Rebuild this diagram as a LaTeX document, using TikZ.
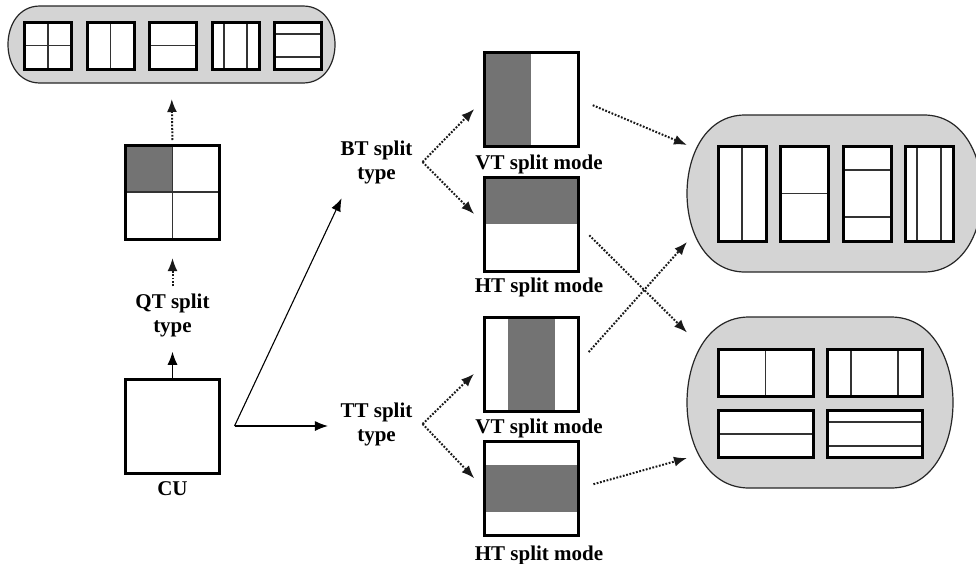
\documentclass[tikz,border=0pt]{standalone}
\usepackage{fontspec}
\setmainfont{Liberation Serif}
\usetikzlibrary{arrows.meta,calc}
\newcommand\pillshape[2]{%
  \path[pillsty] ([xshift=#2]#1.north west) -- ([xshift=-#2]#1.north east)
    .. controls ([xshift=#2/3]#1.north east) and ([xshift=#2/3]#1.south east) .. ([xshift=-#2]#1.south east)
    -- ([xshift=#2]#1.south west)
    .. controls ([xshift=-#2/3]#1.south west) and ([xshift=-#2/3]#1.north west) .. cycle;}
\newcommand\cellbox[6]{%
  \node[cellnode, minimum width=#4pt, minimum height=#5pt] (#1) at (#2,#3) {};
  \begin{scope}[shift={(#2-#4/2,#3-#5/2)}, x=#4pt, y=-#5pt]
    #6
    \draw[celledge] (0,0) rectangle (1,1);
  \end{scope}}
\begin{document}
\begin{tikzpicture}[x=1pt,y=-1pt,
  lbl/.style={font=\fontsize{21}{24}\selectfont\bfseries, inner sep=0pt, align=center},
  cellnode/.style={fill=white, inner sep=0pt, outer sep=0pt},
  celledge/.style={line width=3pt, line join=miter},
  divider/.style={line width=1.6pt, black!80},
  shadefill/.style={fill=black!55},
  pillnode/.style={inner sep=0pt, outer sep=0pt},
  pillsty/.style={fill=black!17, draw=black!85, line width=1.2pt},
  solidarrow/.style={line width=1.1pt, -{Latex[length=13pt,width=10pt]}},
  dotarrow/.style={line width=2pt, dash pattern=on 1.8pt off 1.6pt, black!90, -{Latex[length=13pt,width=10pt]}},
]
\useasboundingbox (0,0) rectangle (976,563);
\clip (0,0) rectangle (976,563);
\fill[white] (0,0) rectangle (976,563);

% pills
\node[pillnode, minimum width=327pt, minimum height=77pt] (tp) at (171.5,44.5) {};
\pillshape{tp}{32pt}
\node[pillnode, minimum width=295pt, minimum height=157pt] (rp1) at (834.5,193.5) {};
\pillshape{rp1}{58pt}
\node[pillnode, minimum width=266pt, minimum height=171pt] (rp2) at (820,402.5) {};
\pillshape{rp2}{62pt}

% top pill cells
\cellbox{a1}{48}{45.5}{47}{47}{\draw[divider] (0.5,0) -- (0.5,1) (0,0.5) -- (1,0.5);}
\cellbox{a2}{110.5}{45.5}{47}{47}{\draw[divider] (0.5,0) -- (0.5,1);}
\cellbox{a3}{173}{45.5}{47}{47}{\draw[divider] (0,0.5) -- (1,0.5);}
\cellbox{a4}{235.5}{45.5}{47}{47}{\draw[divider] (0.25,0) -- (0.25,1) (0.75,0) -- (0.75,1);}
\cellbox{a5}{298}{45.5}{47}{47}{\draw[divider] (0,0.25) -- (1,0.25) (0,0.75) -- (1,0.75);}

% right pill 1 cells
\cellbox{b1}{742}{193.5}{48}{95}{\draw[divider] (0.5,0) -- (0.5,1);}
\cellbox{b2}{804}{193.5}{48}{95}{\draw[divider] (0,0.5) -- (1,0.5);}
\cellbox{b3}{867}{193.5}{48}{95}{\draw[divider] (0,0.25) -- (1,0.25) (0,0.75) -- (1,0.75);}
\cellbox{b4}{929}{193.5}{48}{95}{\draw[divider] (0.25,0) -- (0.25,1) (0.75,0) -- (0.75,1);}

% right pill 2 cells
\cellbox{c1}{765.5}{372.5}{95}{47}{\draw[divider] (0.5,0) -- (0.5,1);}
\cellbox{c2}{874.5}{372.5}{95}{47}{\draw[divider] (0.25,0) -- (0.25,1) (0.75,0) -- (0.75,1);}
\cellbox{c3}{765.5}{434}{95}{47}{\draw[divider] (0,0.5) -- (1,0.5);}
\cellbox{c4}{874.5}{434}{95}{47}{\draw[divider] (0,0.25) -- (1,0.25) (0,0.75) -- (1,0.75);}

% QT and CU
\cellbox{qt}{172.5}{192}{94}{94}{\fill[shadefill] (0,0) rectangle (0.5,0.5); \draw[divider] (0.5,0) -- (0.5,1) (0,0.5) -- (1,0.5);}
\cellbox{cu}{172.5}{426}{94}{94}{}

% split mode boxes
\cellbox{bvt}{531}{99}{94}{94}{\fill[shadefill] (0,0) rectangle (0.5,1);}
\cellbox{bht}{531}{224}{94}{94}{\fill[shadefill] (0,0) rectangle (1,0.5);}
\cellbox{tvt}{531}{364}{94}{94}{\fill[shadefill] (0.25,0) rectangle (0.75,1);}
\cellbox{tht}{531}{488.5}{94}{94}{\fill[shadefill] (0,0.25) rectangle (1,0.75);}

% labels
\node[lbl] (qtl) at (172.5,315) {QT split\\type};
\node[lbl] (btl) at (376.5,162) {BT split\\type};
\node[lbl] (ttl) at (376.5,424) {TT split\\type};
\node[lbl, anchor=base] (bvtl) at (539,169) {VT split mode};
\node[lbl, anchor=base] (bhtl) at (539,292) {HT split mode};
\node[lbl, anchor=base] (tvtl) at (539,433) {VT split mode};
\node[lbl, anchor=base] (thtl) at (539,560) {HT split mode};
\node[lbl, anchor=base] (cul) at (172.5,495) {CU};

% connectors
\coordinate (fork) at ($(cu.east)+(15,0)$);
\coordinate (btv) at ($(btl.east)+(10,0)$);
\coordinate (ttv) at ($(ttl.east)+(10,0)$);
\draw[solidarrow, shorten >=15pt] (cu.north) -- (qtl.south);
\draw[dotarrow, shorten <=7pt, shorten >=19pt] (qtl.north) -- (qt.south);
\draw[dotarrow, shorten <=5pt, shorten >=16pt] (qt.north) -- (tp.south);
\draw[solidarrow, shorten >=16pt] (fork) -- ([xshift=8pt]btl.south west);
\draw[solidarrow, shorten >=12.5pt] (fork) -- (fork -| ttl.west);
\draw[dotarrow, shorten >=14pt] (btv) -- (bvt.west);
\draw[dotarrow, shorten >=14pt] (btv) -- (bht.west);
\draw[dotarrow, shorten >=14pt] (ttv) -- (tvt.west);
\draw[dotarrow, shorten >=14pt] (ttv) -- (tht.west);
\draw[dotarrow, shorten <=16pt] (bvt.east) -- ($(rp1.west)+(0,-48.5)$);
\draw[dotarrow, shorten <=16pt] (tvt.east) -- ($(rp1.west)+(0,48.5)$);
\draw[dotarrow, shorten <=16pt] (bht.east) -- ($(rp2.west)+(0,-70)$);
\draw[dotarrow, shorten <=16pt] (tht.east) -- ($(rp2.west)+(0,55.5)$);
\end{tikzpicture}
\end{document}
